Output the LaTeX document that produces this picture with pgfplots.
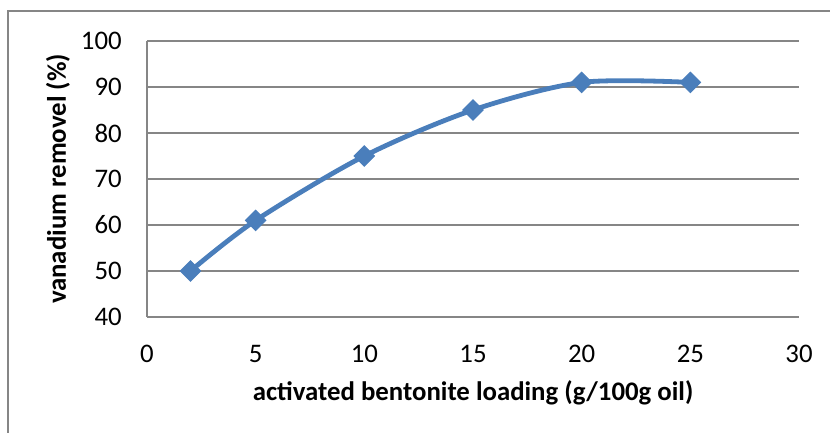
\documentclass[border=0pt]{standalone}
\usepackage{pgfplots}
\pgfplotsset{compat=1.18}
\usepackage{fontspec}
\setmainfont{Carlito}
\definecolor{lineblue}{HTML}{4A7EBB}
\definecolor{gridgray}{HTML}{868686}
\begin{document}
\fontsize{13.4pt}{16pt}\selectfont
\begin{tikzpicture}
\path[use as bounding box] (0,0) rectangle (415pt,216.5pt);
\draw[gridgray, line width=0.6pt] (4pt,-2pt) -- (4pt,211pt) -- (417pt,211pt);
\begin{axis}[
  at={(73.5pt,58pt)}, anchor=south west,
  scale only axis, width=326pt, height=138pt,
  xmin=0, xmax=30, ymin=40, ymax=100,
  xtick={0,5,...,30}, ytick={40,50,...,100},
  axis x line*=bottom, axis y line*=left,
  axis line style={draw=gridgray, line width=0.6pt},
  ymajorgrids, grid style={draw=gridgray, line width=0.6pt},
  major tick length=0pt,
  tick style={draw=none},
  /pgf/number format/assume math mode=true,
  ticklabel style={font=\fontsize{13.4pt}{16pt}\selectfont},
  xticklabel style={yshift=-9.5pt},
  yticklabel style={xshift=-8pt},
  every axis x label/.style={at={(axis description cs:0.5,0)}, anchor=center, yshift=-38pt, font=\bfseries\fontsize{13.4pt}{16pt}\selectfont},
  every axis y label/.style={at={(axis description cs:0,0.5)}, anchor=center, rotate=90, yshift=44.5pt, font=\bfseries\fontsize{13.4pt}{16pt}\selectfont},
  xlabel={activated bentonite loading (g/100g oil)},
  ylabel={vanadium removel (\%)},
  clip=false,
]
\addplot[lineblue, line width=2.4pt, smooth, mark=square*, mark size=3.6pt,
  mark options={rotate=45, fill=lineblue, draw=lineblue, line width=0.5pt}]
  coordinates {(2,50) (5,61) (10,75) (15,85) (20,91) (25,91)};
\end{axis}
\end{tikzpicture}
\end{document}
